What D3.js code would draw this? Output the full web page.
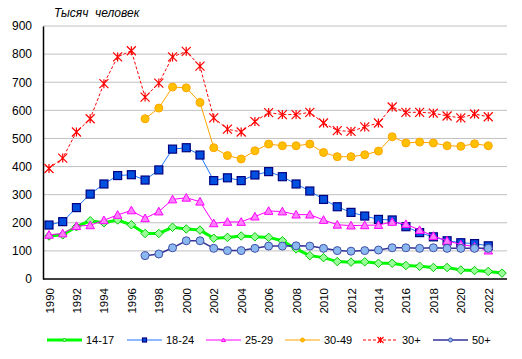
<!DOCTYPE html>
<html><head><meta charset="utf-8">
<script src="https://cdn.jsdelivr.net/npm/d3@7"></script>
<style>body{margin:0;background:#fff}svg{display:block;font-family:Arial,"Liberation Sans",sans-serif}</style>
</head><body>
<svg id="c" width="522" height="359"></svg>
<script>
const years = d3.range(1990, 2024);
const tickYears = d3.range(1990, 2023, 2);
const yTicks = [0,100,200,300,400,500,600,700,800,900];
const s1417 = [153,157,186,207,200,210,193,162,162,184,178,174,145,148,153,150,148,136,107,83,76,62,60,61,56,56,48,45,41,41,32,30,27,21];
const s1824 = [192,204,254,302,338,368,371,352,388,462,467,441,350,360,350,370,382,364,338,313,283,257,237,224,212,210,186,165,150,136,129,126,118,null];
const s2529 = [157,162,188,191,209,228,244,216,240,283,289,275,198,203,203,222,242,240,229,229,210,193,190,191,192,203,195,174,153,136,123,115,101,null];
const s3049 = [null,null,null,null,null,null,null,570,608,683,680,628,467,439,427,456,480,474,474,480,450,435,435,442,455,506,484,487,484,474,472,481,474,null];
const s30p  = [393,430,523,570,695,790,812,647,697,790,810,757,573,533,523,560,592,585,585,593,555,528,525,541,555,612,593,593,590,580,573,587,577,null];
const s50p  = [null,null,null,null,null,null,null,83,89,111,136,136,109,101,101,109,117,117,118,117,109,101,99,101,103,111,111,109,111,109,109,109,109,null];
const names = ["14-17","18-24","25-29","30-49","30+","50+"];

const series = [
  {name:names[0], vals:s1417, line:"#00ff00", lw:3, dash:null, mk:"diamond", fill:"#99ff99", stroke:"#00cc00"},
  {name:names[1], vals:s1824, line:"#1a75ff", lw:1, dash:null, mk:"square", fill:"#0050e0", stroke:"#000080"},
  {name:names[2], vals:s2529, line:"#ff00ff", lw:1, dash:null, mk:"triangle", fill:"#ff80ff", stroke:"#ff00ff"},
  {name:names[3], vals:s3049, line:"#ffa500", lw:1, dash:null, mk:"circle", fill:"#ffc000", stroke:"#ffa500"},
  {name:names[4], vals:s30p, line:"#ff0000", lw:1, dash:"3,2", mk:"star", fill:"none", stroke:"#ff0000"},
  {name:names[5], vals:s50p, line:"#333399", lw:1.5, dash:null, mk:"circle", fill:"#8cb8f0", stroke:"#4050a8"}
];

const svg = d3.select("#c");
const L=43, R=507, T=26, B=279;
const x = d3.scalePoint().domain(years).range([49, 502]);
const y = d3.scaleLinear().domain([0,900]).range([B, T]);

// grid
svg.append("g").selectAll("line").data(yTicks.filter(d=>d>0)).join("line")
  .attr("x1",L).attr("x2",R).attr("y1",d=>y(d)).attr("y2",d=>y(d))
  .attr("stroke","#c0c0c0").attr("stroke-width",1);

// y axis
const ya = svg.append("g").attr("transform",`translate(${L},0)`)
  .call(d3.axisLeft(y).tickValues(yTicks).tickSize(0).tickPadding(11));
ya.select(".domain").attr("stroke","#000").attr("stroke-width",1.5);
ya.selectAll("text").attr("font-size","12px").attr("fill","#000").attr("font-family","Arial, 'Liberation Sans', sans-serif");

// x axis
const xa = svg.append("g").attr("transform",`translate(0,${B})`)
  .call(d3.axisBottom(x).tickValues(tickYears).tickSize(0).tickPadding(0));
xa.select(".domain").attr("d",`M${L},0H${R}`).attr("stroke","#000").attr("stroke-width",1.5);
xa.selectAll("text").attr("font-size","11.5px").attr("fill","#000")
  .attr("font-family","Arial, 'Liberation Sans', sans-serif")
  .attr("text-anchor","end").attr("transform","rotate(-90)")
  .attr("dy","0.35em").attr("x",-9).attr("y",0);

// title
svg.append("text").attr("x",54).attr("y",17).attr("font-size","12px").attr("font-style","italic")
  .attr("fill","#000").style("white-space","pre").text("Тысяч  человек");

function marker(g, type, cx, cy, s, fill, stroke){
  if(type==="circle"){ g.append("circle").attr("cx",cx).attr("cy",cy).attr("r",s/2).attr("fill",fill).attr("stroke",stroke).attr("stroke-width",1); }
  else if(type==="square"){ g.append("rect").attr("x",cx-s/2).attr("y",cy-s/2).attr("width",s).attr("height",s).attr("fill",fill).attr("stroke",stroke).attr("stroke-width",1.2); }
  else if(type==="triangle"){ const h=s/2; g.append("path").attr("d",`M${cx},${cy-h}L${cx+h},${cy+h*0.8}L${cx-h},${cy+h*0.8}Z`).attr("fill",fill).attr("stroke",stroke).attr("stroke-width",1); }
  else if(type==="diamond"){ const h=s/2; g.append("path").attr("d",`M${cx},${cy-h}L${cx+h},${cy}L${cx},${cy+h}L${cx-h},${cy}Z`).attr("fill",fill).attr("stroke",stroke).attr("stroke-width",1); }
  else if(type==="star"){ const h=s/2; g.append("path").attr("d",`M${cx-h},${cy-h}L${cx+h},${cy+h}M${cx-h},${cy+h}L${cx+h},${cy-h}M${cx},${cy-h}L${cx},${cy+h}`).attr("fill","none").attr("stroke",stroke).attr("stroke-width",1.2); }
}
const msize = {circle:8, square:8, triangle:8.5, diamond:8.5, star:9};

const line = d3.line().defined(d=>d.v!=null).x(d=>x(d.yr)).y(d=>y(d.v));
series.forEach(s=>{
  const pts = years.map((yr,i)=>({yr, v:s.vals[i]}));
  const g = svg.append("g");
  g.append("path").datum(pts).attr("d",line).attr("fill","none").attr("stroke",s.line)
    .attr("stroke-width",s.lw).attr("stroke-dasharray",s.dash);
  pts.filter(d=>d.v!=null).forEach(d=>marker(g, s.mk, x(d.yr), y(d.v), msize[s.mk], s.fill, s.stroke));
});

// legend
const legX = [47,127,206,285,363,433];
const ly = 340;
series.forEach((s,i)=>{
  const g = svg.append("g");
  g.append("line").attr("x1",legX[i]).attr("x2",legX[i]+35).attr("y1",ly).attr("y2",ly)
    .attr("stroke",s.line).attr("stroke-width",s.lw).attr("stroke-dasharray",s.dash);
  marker(g, s.mk, legX[i]+17.5, ly, s.mk==="star"?6:4, s.fill, s.stroke);
  g.append("text").attr("x",legX[i]+39).attr("y",ly).attr("dy","0.36em").attr("font-size","11px").attr("fill","#000").text(s.name);
});
</script>
</body></html>
